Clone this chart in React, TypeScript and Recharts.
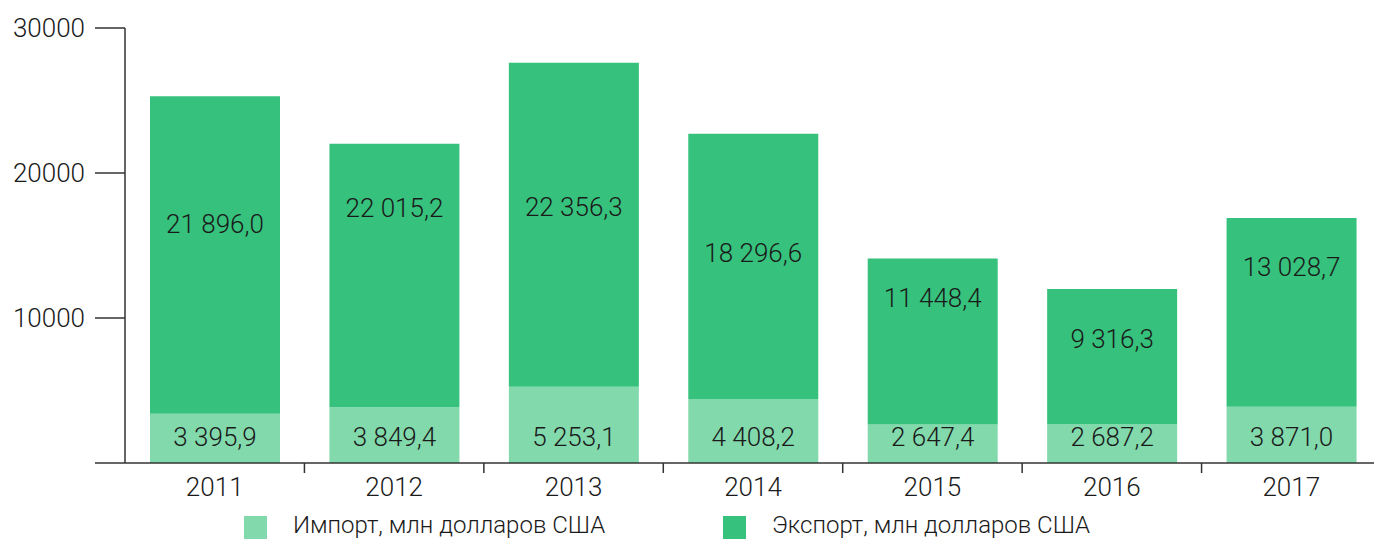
import { BarChart, Bar, XAxis, YAxis, Legend, LabelList } from 'recharts'

const years = ['2011', '2012', '2013', '2014', '2015', '2016', '2017']
const importValues = [3395.9, 3849.4, 5253.1, 4408.2, 2647.4, 2687.2, 3871.0]
// bar heights as drawn in the picture (2012 is drawn shorter than its label)
const exportValues = [21896.0, 18165.8, 22356.3, 18296.6, 11448.4, 9316.3, 13028.7]
const exportLabels = ['21 896,0', '22 015,2', '22 356,3', '18 296,6', '11 448,4', '9 316,3', '13 028,7']
const importLabels = ['3 395,9', '3 849,4', '5 253,1', '4 408,2', '2 647,4', '2 687,2', '3 871,0']
const yTicks = [0, 10000, 20000, 30000]

// where the export label sits inside its segment (0 = top, 1 = bottom)
const exportLabelPos = [0.4, 0.243, 0.443, 0.447, 0.233, 0.365, 0.258]

const data = years.map((year, i) => ({
  year,
  import: importValues[i],
  export: exportValues[i],
}))

const CHART_W = 1381
const CHART_H = 539
const Y_AXIS_W = 125
const BAND = (CHART_W - Y_AXIS_W) / years.length

const FONT = 'Roboto, "Liberation Sans", sans-serif'
const TEXT = '#1a1a1a'
const AXIS = '#333333'
const IMPORT_COLOR = '#82D9AC'
const EXPORT_COLOR = '#36C27C'

const YTick = ({ x, y, payload }: any) => {
  if (payload.value === 0) return null
  return (
    <text x={x} y={y} dy="0.36em" textAnchor="end" fill={TEXT} fontSize={26} fontWeight={300} fontFamily={FONT}>
      {payload.value}
    </text>
  )
}

const XTick = ({ x, y, payload, index }: any) => {
  const axisY = y - 14
  return (
    <g>
      {index < years.length - 1 && (
        <line x1={x + BAND / 2} x2={x + BAND / 2} y1={axisY} y2={axisY + 10} stroke={AXIS} strokeWidth={1.5} />
      )}
      <text x={x} y={y} dy="0.72em" textAnchor="middle" fill={TEXT} fontSize={26} fontWeight={300} fontFamily={FONT}>
        {payload.value}
      </text>
    </g>
  )
}

const ImportLabel = ({ x, y, width, height, index }: any) => (
  <text
    x={x + width / 2}
    y={y + height - 17}
    textAnchor="middle"
    fill={TEXT}
    fontSize={26}
    fontWeight={300}
    fontFamily={FONT}
  >
    {importLabels[index]}
  </text>
)

const ExportLabel = ({ x, y, width, height, index }: any) => (
  <text
    x={x + width / 2}
    y={y + height * exportLabelPos[index]}
    dy="0.36em"
    textAnchor="middle"
    fill={TEXT}
    fontSize={26}
    fontWeight={300}
    fontFamily={FONT}
  >
    {exportLabels[index]}
  </text>
)

const legendItems = [
  { label: 'Импорт, млн долларов США', color: IMPORT_COLOR, left: 244 },
  { label: 'Экспорт, млн долларов США', color: EXPORT_COLOR, left: 723 },
]

const CustomLegend = () => (
  <div style={{ position: 'relative', width: CHART_W, height: 24 }}>
    {legendItems.map((item) => (
      <div
        key={item.label}
        style={{ position: 'absolute', left: item.left, top: 0, display: 'flex', alignItems: 'flex-start' }}
      >
        <div style={{ width: 23, height: 24, marginTop: 2, background: item.color }} />
        <span
          style={{
            marginLeft: 26,
            fontSize: 24,
            fontWeight: 300,
            fontFamily: FONT,
            color: TEXT,
            lineHeight: '22px',
            whiteSpace: 'nowrap',
          }}
        >
          {item.label}
        </span>
      </div>
    ))}
  </div>
)

export default function App() {
  return (
    <div
      style={{
        position: 'absolute',
        left: 0,
        top: 0,
        width: 1374,
        height: CHART_H,
        overflow: 'hidden',
        background: '#fff',
      }}
    >
      <BarChart
        width={CHART_W}
        height={CHART_H}
        data={data}
        margin={{ top: 28, right: 0, bottom: 62, left: 0 }}
        barSize={130}
      >
        <YAxis
          width={Y_AXIS_W}
          domain={[0, 30000]}
          ticks={yTicks}
          interval={0}
          tickSize={30}
          tickMargin={10}
          tick={<YTick />}
          axisLine={{ stroke: AXIS, strokeWidth: 1.5 }}
          tickLine={{ stroke: AXIS, strokeWidth: 1.5 }}
        />
        <XAxis
          dataKey="year"
          height={14}
          interval={0}
          tickSize={10}
          tickMargin={4}
          tick={<XTick />}
          tickLine={false}
          axisLine={{ stroke: AXIS, strokeWidth: 1.5 }}
        />
        <Legend
          verticalAlign="middle"
          layout="horizontal"
          wrapperStyle={{ left: 0, top: 514, width: CHART_W }}
          content={<CustomLegend />}
        />
        <Bar dataKey="import" stackId="a" fill={IMPORT_COLOR} isAnimationActive={false}>
          <LabelList dataKey="import" content={<ImportLabel />} />
        </Bar>
        <Bar dataKey="export" stackId="a" fill={EXPORT_COLOR} isAnimationActive={false}>
          <LabelList dataKey="export" content={<ExportLabel />} />
        </Bar>
      </BarChart>
    </div>
  )
}
